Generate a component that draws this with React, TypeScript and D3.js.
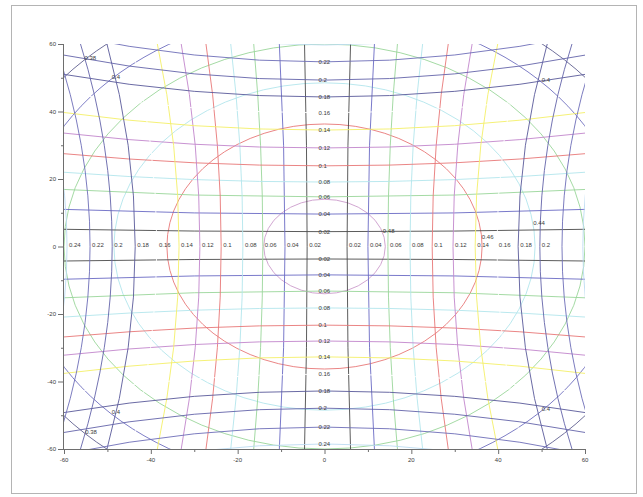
import React from 'react';
import * as d3 from 'd3';

// ---- data ----
const levels = [0.02, 0.04, 0.06, 0.08, 0.1, 0.12, 0.14, 0.16, 0.18, 0.2, 0.22, 0.24];

// "vertical" family: x at y=0 (mid) and at y=±60 (edge)
const vLeftMid = [-4.0, -9.1, -14.2, -18.8, -23.8, -28.7, -33.5, -38.6, -43.6, -48.9, -54.0, -59.3];
const vLeftEdge = [-4.6, -10.4, -16.3, -21.6, -27.3, -33.0, -38.5, -44.4, -50.1, -56.2, -62.1, -68.2];
const vRightMid = [5.2, 10.0, 14.6, 19.7, 24.8, 29.6, 34.7, 39.7, 44.6, 49.6, 54.7, 59.5];
const vRightEdge = [6.0, 11.5, 16.8, 22.6, 28.5, 34.0, 39.9, 45.7, 51.3, 57.0, 62.9, 68.4];
const vLeftLabeled = [true, true, true, true, true, true, true, true, true, true, true, true];
const vRightLabeled = [true, true, true, true, true, true, true, true, true, true, false, false];

// "horizontal" family: y at x=0 (mid) and at x=±60 (edge)
const hTopMid = [4.4, 9.6, 14.7, 19.1, 23.9, 29.2, 34.5, 39.6, 44.3, 49.3, 54.7, 59.7];
const hTopEdge = [5.1, 11.0, 16.9, 22.0, 27.5, 33.6, 39.7, 45.5, 51.0, 56.7, 62.9, 68.7];
const hBottomMid = [-3.7, -8.4, -13.2, -18.2, -23.3, -28.0, -32.7, -37.8, -42.8, -47.9, -53.5, -58.5];
const hBottomEdge = [-4.3, -9.7, -15.2, -20.9, -26.8, -32.2, -37.6, -43.5, -49.2, -55.1, -61.5, -67.3];
const hTopLabeled = [true, true, true, true, true, true, true, true, true, true, true, false];
const hBottomLabeled = [true, true, true, true, true, true, true, true, true, true, true, true];

// circular family
const circleLevels = [0.48, 0.46, 0.44, 0.42, 0.4, 0.38];
const circleRadii = [14.0, 36.3, 48.5, 60.0, 69.8, 78.2];
const circleLabelLevel = [0.38, 0.4, 0.4, 0.4, 0.38, 0.4, 0.44, 0.46, 0.48];
const circleLabelAngle = [135, 134.6, 44.2, 225.4, 225.2, 315.8, 7.7, 3.4, 16.4];

const xTicks = [-60, -40, -20, 0, 20, 40, 60];
const xMinor = [-50, -30, -10, 10, 30, 50];
const yTicks = [-60, -40, -20, 0, 20, 40, 60];
const yMinor = [-50, -30, -10, 10, 30, 50];

// palette (Scilab colormap indices 1..12, as they appear)
const lineColors = ['#4a4a4a', '#6a6ac4', '#9ad69a', '#b2e6ec', '#e87878', '#c286cc', '#f4f068', '#ffffff', '#5a5a9a', '#6464aa', '#6e6eb8', '#bcdcf2'];
const circleColors = ['#cc9ccc', '#e87878', '#b2e6ec', '#9ad69a', '#7070c0', '#606090'];

const fmt = (v: number) => String(+v.toFixed(2));

export default function App() {
  const x = d3.scaleLinear().domain([-60, 60]).range([64, 585]);
  const y = d3.scaleLinear().domain([-60, 60]).range([449, 44]);

  const vPath = (mid: number, edge: number) => {
    const p = d3.path();
    p.moveTo(x(edge), y(60));
    p.quadraticCurveTo(x(2 * mid - edge), y(0), x(edge), y(-60));
    return p.toString();
  };
  const hPath = (mid: number, edge: number) => {
    const p = d3.path();
    p.moveTo(x(-60), y(edge));
    p.quadraticCurveTo(x(0), y(2 * mid - edge), x(60), y(edge));
    return p.toString();
  };

  const labelStyle = { fontFamily: 'Liberation Sans, Arial, sans-serif', fontSize: 6, fill: '#3a3a3a' } as const;

  return (
    <svg width={643} height={497} style={{ position: 'absolute', left: 0, top: 0, background: '#fff' }}>
      <defs>
        <clipPath id="plotclip">
          <rect x={x(-60)} y={y(60)} width={x(60) - x(-60)} height={y(-60) - y(60)} />
        </clipPath>
      </defs>
      <rect x={11.5} y={5.5} width={625} height={488} fill="#fff" stroke="#b4b4b4" strokeWidth={1} />

      <g clipPath="url(#plotclip)" fill="none" strokeWidth={1} strokeOpacity={0.9}>
        {circleRadii.map((r, i) => (
          <ellipse key={'c' + i} cx={x(0)} cy={y(0)} rx={x(r) - x(0)} ry={y(0) - y(r)} stroke={circleColors[i]} />
        ))}
        {levels.map((l, i) => (
          <g key={'v' + i} stroke={lineColors[i]}>
            <path d={vPath(vLeftMid[i], vLeftEdge[i])} />
            <path d={vPath(vRightMid[i], vRightEdge[i])} />
            <path d={hPath(hTopMid[i], hTopEdge[i])} />
            <path d={hPath(hBottomMid[i], hBottomEdge[i])} />
          </g>
        ))}
      </g>

      <g style={labelStyle as any}>
        {levels.map((l, i) => (
          <g key={'lab' + i}>
            {vLeftLabeled[i] && <text x={x(vLeftMid[i]) + 2} y={y(0)}>{fmt(l)}</text>}
            {vRightLabeled[i] && <text x={x(vRightMid[i]) + 2} y={y(0)}>{fmt(l)}</text>}
            {hTopLabeled[i] && <text x={x(0) - 6} y={y(hTopMid[i]) + 2}>{fmt(l)}</text>}
            {hBottomLabeled[i] && <text x={x(0) - 6} y={y(hBottomMid[i]) + 2}>{fmt(l)}</text>}
          </g>
        ))}
        {circleLabelLevel.map((l, i) => {
          const r = circleRadii[circleLevels.indexOf(l)];
          const a = (circleLabelAngle[i] * Math.PI) / 180;
          return (
            <text key={'cl' + i} x={x(r * Math.cos(a))} y={y(r * Math.sin(a))}>{fmt(l)}</text>
          );
        })}
      </g>

      {/* axes */}
      <g stroke="#6e6e6e" strokeWidth={1} fill="none">
        <line x1={x(-60) - 0.5} x2={x(-60) - 0.5} y1={y(60)} y2={y(-60)} />
        <line x1={x(-60)} x2={x(60)} y1={y(-60) + 0.5} y2={y(-60) + 0.5} />
        {yTicks.map((t) => (
          <line key={'yt' + t} x1={x(-60) - 6} x2={x(-60)} y1={y(t) + 0.5} y2={y(t) + 0.5} />
        ))}
        {yMinor.map((t) => (
          <line key={'ym' + t} x1={x(-60) - 3} x2={x(-60)} y1={y(t) + 0.5} y2={y(t) + 0.5} />
        ))}
        {xTicks.map((t) => (
          <line key={'xt' + t} x1={x(t) + 0.5} x2={x(t) + 0.5} y1={y(-60)} y2={y(-60) + 5} />
        ))}
        {xMinor.map((t) => (
          <line key={'xm' + t} x1={x(t) + 0.5} x2={x(t) + 0.5} y1={y(-60)} y2={y(-60) + 3} />
        ))}
      </g>
      <g style={labelStyle as any}>
        {yTicks.map((t) => (
          <text key={'ytl' + t} x={x(-60) - 8} y={y(t) + 2} textAnchor="end">{t}</text>
        ))}
        {xTicks.map((t) => (
          <text key={'xtl' + t} x={x(t)} y={y(-60) + 13} textAnchor="middle">{t}</text>
        ))}
      </g>
    </svg>
  );
}
